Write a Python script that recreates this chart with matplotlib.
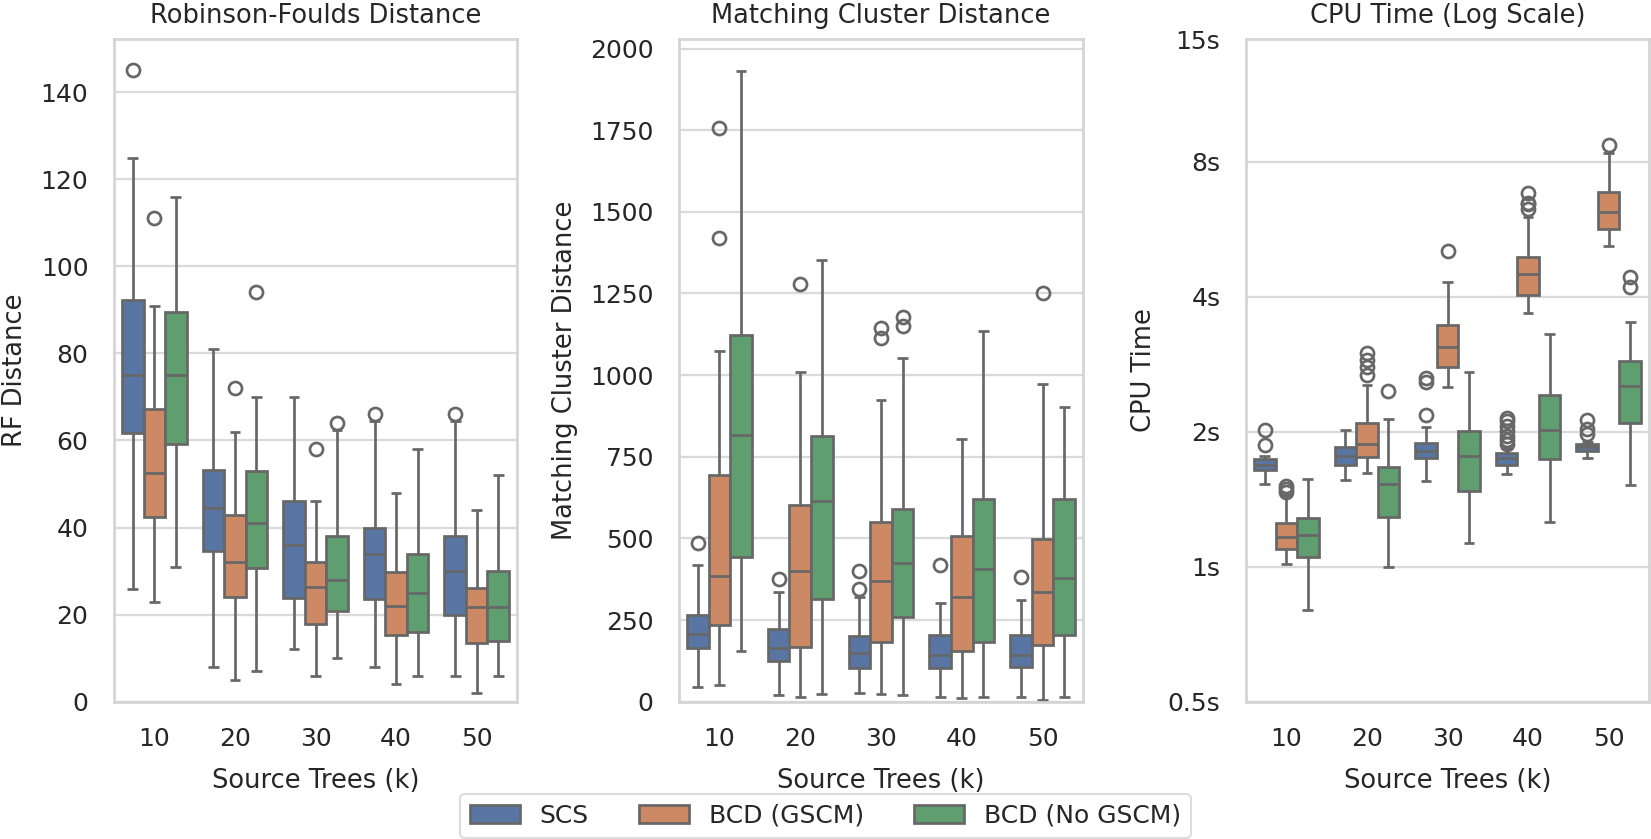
import matplotlib
matplotlib.use('Agg')
import matplotlib.pyplot as plt
from matplotlib.patches import Patch
from matplotlib.ticker import FixedLocator, FixedFormatter, NullLocator

plt.rcParams['font.family'] = ['DejaVu Sans']

# ---------------- data ----------------
k_labels = ['10', '20', '30', '40', '50']
methods = ['SCS', 'BCD (GSCM)', 'BCD (No GSCM)']
colors = ['#5875A4', '#CC8963', '#5F9E6E']

# each row: (whisker low, Q1, median, Q3, whisker high) for k = 10..50
rf_scs = [(26, 61.8, 75, 92.2, 125), (8, 34.7, 44.6, 53.3, 81), (12, 23.8, 36, 46, 70),
          (8, 23.5, 34, 40, 64.4), (6, 19.9, 30, 38.1, 64.4)]
rf_scs_fliers = [[145], [], [], [66], [66]]
rf_gscm = [(23, 42.4, 52.5, 67.2, 91), (5, 24, 32, 42.9, 62), (6, 17.9, 26.4, 32.2, 46),
           (4, 15.4, 22, 29.9, 48), (2, 13.4, 21.8, 26.1, 44)]
rf_gscm_fliers = [[111], [72], [58], [], []]
rf_nogscm = [(31, 59.2, 75, 89.4, 116), (7, 30.7, 41, 53, 70), (10, 20.8, 28, 38.1, 62.3),
             (6, 16, 25, 34, 58), (6, 14, 21.8, 30, 52)]
rf_nogscm_fliers = [[], [94], [64], [], []]

mc_scs = [(46, 165, 207, 267, 420), (22, 126, 165, 222, 337), (27, 103, 148, 200, 321),
          (15, 103, 143, 205, 301), (15, 105, 142, 203, 311)]
mc_scs_fliers = [[485], [375], [345, 401], [420], [383]]
mc_gscm = [(50, 235, 384, 693, 1073), (15, 167, 399, 601, 1010), (25, 182, 370, 551, 923),
           (10, 155, 321, 508, 804), (5, 175, 336, 498, 972)]
mc_gscm_fliers = [[1421, 1756], [1278], [1114, 1143], [], [1253]]
mc_nogscm = [(155, 442, 818, 1122, 1932), (25, 313, 614, 813, 1354), (22, 258, 425, 589, 1051),
             (15, 184, 405, 621, 1136), (13, 205, 378, 621, 903)]
mc_nogscm_fliers = [[], [], [1151, 1179], [], []]

cpu_scs = [(1.53, 1.64, 1.685, 1.735, 1.77), (1.56, 1.69, 1.765, 1.845, 2.02),
           (1.55, 1.745, 1.81, 1.89, 2.045), (1.61, 1.69, 1.745, 1.79, 1.835),
           (1.745, 1.81, 1.85, 1.88, 1.90)]
cpu_scs_fliers = [[1.87, 2.02], [], [2.18, 2.58, 2.63],
                  [1.88, 1.92, 1.96, 2.01, 2.06, 2.11, 2.15], [1.98, 2.03, 2.12]]
cpu_gscm = [(1.012, 1.097, 1.166, 1.25, 1.445), (1.62, 1.76, 1.88, 2.095, 2.54),
            (2.52, 2.79, 3.09, 3.46, 4.31), (3.67, 4.03, 4.49, 4.91, 6.03),
            (5.2, 5.65, 6.19, 6.86, 8.38)]
cpu_gscm_fliers = [[1.47, 1.49, 1.51], [2.67, 2.79, 2.89, 3.0], [5.07],
                   [6.29, 6.43, 6.48, 6.82], [8.72]]
cpu_nogscm = [(0.80, 1.049, 1.177, 1.286, 1.568), (1.0, 1.288, 1.53, 1.665, 2.14),
              (1.131, 1.475, 1.77, 2.01, 2.72), (1.26, 1.735, 2.02, 2.41, 3.31),
              (1.52, 2.09, 2.53, 2.88, 3.52)]
cpu_nogscm_fliers = [[], [2.47], [], [], [4.21, 4.42]]

cpu_ticks = [0.5, 1, 2, 4, 8, 15]
cpu_tick_labels = ['0.5s', '1s', '2s', '4s', '8s', '15s']

panels = [
    dict(title='Robinson-Foulds Distance', ylabel='RF Distance',
         series=[(rf_scs, rf_scs_fliers), (rf_gscm, rf_gscm_fliers), (rf_nogscm, rf_nogscm_fliers)]),
    dict(title='Matching Cluster Distance', ylabel='Matching Cluster Distance',
         series=[(mc_scs, mc_scs_fliers), (mc_gscm, mc_gscm_fliers), (mc_nogscm, mc_nogscm_fliers)]),
    dict(title='CPU Time (Log Scale)', ylabel='CPU Time',
         series=[(cpu_scs, cpu_scs_fliers), (cpu_gscm, cpu_gscm_fliers), (cpu_nogscm, cpu_nogscm_fliers)]),
]

# ---------------- style ----------------
W, H = 1651, 839
TEXT = '#262626'
LINE = '#676767'
GRID = '#dadada'
LW = 1.95

fig = plt.figure(figsize=(W / 100, H / 100), dpi=100)
fig.patch.set_facecolor('white')

ax_px = [(114, 517), (679, 1083), (1246, 1649)]
top_px, bot_px = 39.3, 701.7
labelpads = [9.4, 8.2, 8.0]

box_w = 0.8 / 3
offsets = [-box_w, 0.0, box_w]

for i, (p, (l, r)) in enumerate(zip(panels, ax_px)):
    ax = fig.add_axes([l / W, (H - bot_px) / H, (r - l) / W, (bot_px - top_px) / H])
    ax.set_facecolor('white')
    ax.set_axisbelow(True)
    for j, (vals, fl) in enumerate(p['series']):
        stats = []
        for (lo, q1, med, q3, hi), f in zip(vals, fl):
            stats.append(dict(whislo=lo, q1=q1, med=med, q3=q3, whishi=hi, fliers=f))
        pos = [g + offsets[j] for g in range(len(k_labels))]
        ax.bxp(stats, positions=pos, widths=box_w, capwidths=box_w * 0.5,
               patch_artist=True, showfliers=True, manage_ticks=False,
               boxprops=dict(facecolor=colors[j], edgecolor=LINE, linewidth=LW),
               whiskerprops=dict(color=LINE, linewidth=LW, solid_capstyle='butt'),
               capprops=dict(color=LINE, linewidth=LW, solid_capstyle='butt'),
               medianprops=dict(color=LINE, linewidth=LW, solid_capstyle='butt'),
               flierprops=dict(marker='o', markerfacecolor='none', markeredgecolor=LINE,
                               markersize=9.4, markeredgewidth=LW, linestyle='none'))
    ax.set_xlim(-0.5, len(k_labels) - 0.5)
    ax.set_xticks(range(len(k_labels)))
    ax.set_xticklabels(k_labels)
    if i == 2:
        ax.set_yscale('log')
        ax.set_ylim(0.5, 15)
        ax.yaxis.set_major_locator(FixedLocator(cpu_ticks))
        ax.yaxis.set_major_formatter(FixedFormatter(cpu_tick_labels))
        ax.yaxis.set_minor_locator(NullLocator())
    else:
        ax.set_ylim(bottom=0)
        if i == 0:
            ax.set_yticks([0, 20, 40, 60, 80, 100, 120, 140])
        else:
            ax.set_yticks([0, 250, 500, 750, 1000, 1250, 1500, 1750, 2000])
    ax.yaxis.grid(True, color=GRID, linewidth=1.65)
    ax.xaxis.grid(False)
    for s in ax.spines.values():
        s.set_color('#d4d4d4')
        s.set_linewidth(LW)
    ax.tick_params(axis='both', which='both', length=0, pad=18.4, labelsize=18, labelcolor=TEXT)
    ax.set_title(p['title'], fontsize=18.5, color=TEXT, pad=12)
    ax.set_xlabel('Source Trees (k)', fontsize=18.5, color=TEXT, labelpad=12)
    ax.set_ylabel(p['ylabel'], fontsize=18.5, color=TEXT, labelpad=labelpads[i])

handles = [Patch(facecolor=c, edgecolor=LINE, linewidth=LW, label=m) for c, m in zip(colors, methods)]
leg = fig.legend(handles=handles, loc='lower center', bbox_to_anchor=(0.5, 1.3 / H),
                 ncol=3, frameon=True, fontsize=18, borderaxespad=0.0)
leg.get_frame().set_edgecolor('#d4d4d4')
leg.get_frame().set_linewidth(1.5)
for t in leg.get_texts():
    t.set_color(TEXT)

fig.savefig('out.png', dpi=100, facecolor='white')
